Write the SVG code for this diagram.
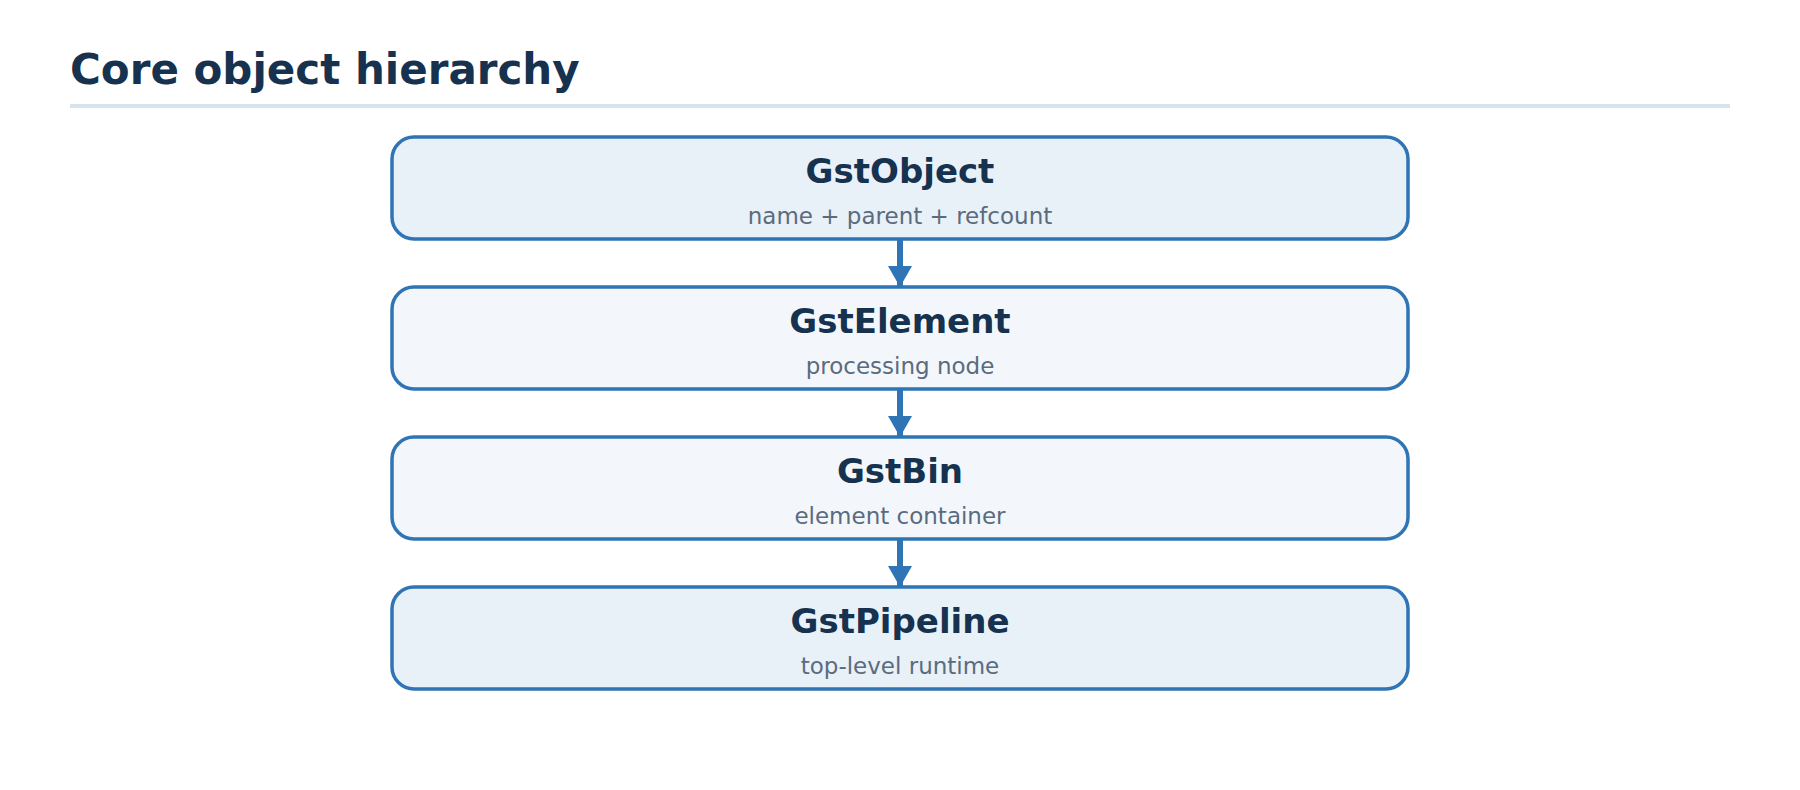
<svg xmlns="http://www.w3.org/2000/svg" width="1800" height="790" viewBox="0 0 1800 790">
  <style>
    .title { font-family: "DejaVu Sans", "Liberation Sans", sans-serif; font-weight: bold; font-size: 42px; fill: #16324f; }
    .box { stroke: #2f74b5; stroke-width: 3.5; }
    .strong { fill: #e8f0f8; }
    .light { fill: #f3f7fb; }
    .name { font-family: "DejaVu Sans", "Liberation Sans", sans-serif; font-weight: bold; font-size: 34px; fill: #16324f; text-anchor: middle; }
    .sub { font-family: "DejaVu Sans", "Liberation Sans", sans-serif; font-size: 23px; fill: #5b6b7e; text-anchor: middle; }
    .edge { stroke: #2f74b5; stroke-width: 6; fill: none; }
  </style>
  <defs>
    <marker id="arrow" markerUnits="userSpaceOnUse" markerWidth="22" markerHeight="24" refX="21" refY="12" orient="auto">
      <path d="M0,0 L21,12 L0,24 Z" fill="#2f74b5"/>
    </marker>
  </defs>
  <rect width="1800" height="790" fill="#ffffff"/>
  <g id="header">
    <text class="title" x="70" y="84">Core object hierarchy</text>
    <rect x="70" y="104" width="1660" height="4" fill="#d9e3ed"/>
  </g>
  <g id="connectors">
    <line class="edge" x1="900" y1="239" x2="900" y2="287" marker-end="url(#arrow)"/>
    <line class="edge" x1="900" y1="389" x2="900" y2="437" marker-end="url(#arrow)"/>
    <line class="edge" x1="900" y1="539" x2="900" y2="587" marker-end="url(#arrow)"/>
  </g>
  <g id="node-gstobject">
    <rect class="box strong" x="392" y="137" width="1016" height="102" rx="22"/>
    <text class="name" x="900" y="183">GstObject</text>
    <text class="sub" x="900" y="224">name + parent + refcount</text>
  </g>
  <g id="node-gstelement">
    <rect class="box light" x="392" y="287" width="1016" height="102" rx="22"/>
    <text class="name" x="900" y="333">GstElement</text>
    <text class="sub" x="900" y="374">processing node</text>
  </g>
  <g id="node-gstbin">
    <rect class="box light" x="392" y="437" width="1016" height="102" rx="22"/>
    <text class="name" x="900" y="483">GstBin</text>
    <text class="sub" x="900" y="524">element container</text>
  </g>
  <g id="node-gstpipeline">
    <rect class="box strong" x="392" y="587" width="1016" height="102" rx="22"/>
    <text class="name" x="900" y="633">GstPipeline</text>
    <text class="sub" x="900" y="674">top-level runtime</text>
  </g>
</svg>
